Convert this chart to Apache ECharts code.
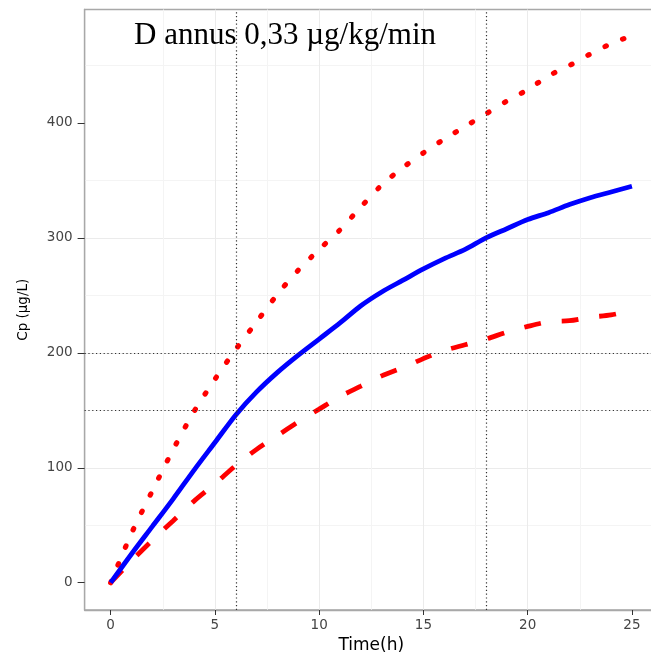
<!DOCTYPE html>
<html>
<head>
<meta charset="utf-8">
<script src="https://cdn.jsdelivr.net/npm/echarts@6/dist/echarts.min.js"></script>
<style>
html,body{margin:0;padding:0;background:#fff;}
#chart{width:651px;height:652px;}
</style>
</head>
<body>
<div id="chart"></div>
<script>
const timeH = [0,1,2,3,4,5,6,7,8,9,10,11,12,13,14,15,16,17,18,19,20,21,22,23,24,25];
const cpMedian = [0,25,49,73,98,122,146,166,183,198,212,226,241,253,263,273,282,290,300,308,316,322,329,335,340,345];
const cpHigh = [0,43,80,116,149,177,203,227,251,272,290,307,327,346,361,374,386,397,408,419,429,441,450,460,469,476];
const cpLow = [0,19,37,54,71,86,102,116,128,140,151,162,171,180,187,195,202,207,212,218,223,227,228,231,233,237];
const xTicks = [0,5,10,15,20,25];
const yTicks = [0,100,200,300,400];
const refX = [6,18];
const refY = [150,200];
const titleText = 'D annus 0,33 µg/kg/min';
const xName = 'Time(h)';
const yName = 'Cp (µg/L)';

const pairs = arr => timeH.map((t,i)=>[t,arr[i]]);
const lw = 4.8;
const chart = echarts.init(document.getElementById('chart'), null, {renderer:'canvas'});
chart.setOption({
  animation:false,
  backgroundColor:'#fff',
  title:{text:titleText,left:129,top:15,textStyle:{fontFamily:'Liberation Serif',fontSize:31,fontWeight:'normal',color:'#000'}},
  grid:{left:84.6,right:-7,top:9.5,bottom:42,containLabel:false,outerBoundsMode:'none',show:true,borderColor:'#a8a8a8',borderWidth:1.3,backgroundColor:'transparent'},
  xAxis:{type:'value',min:-1.25,max:26.25,
    name:xName,nameLocation:'middle',nameGap:25,nameTextStyle:{fontFamily:'DejaVu Sans',fontSize:17,color:'#000'},
    axisLine:{show:true,onZero:false,lineStyle:{color:'#a8a8a8',width:1.3}},
    axisTick:{show:true,customValues:xTicks,length:5,lineStyle:{color:'#333',width:1}},
    axisLabel:{customValues:xTicks,margin:8,fontFamily:'DejaVu Sans',fontSize:13.5,color:'#444'},
    splitLine:{show:true,showMinLine:false,showMaxLine:false,lineStyle:{color:'#ebebeb',width:1}},
    minorTick:{show:false,splitNumber:2},
    minorSplitLine:{show:true,lineStyle:{color:'#f4f4f4',width:1}}
  },
  yAxis:{type:'value',min:-23.75,max:498.75,
    name:yName,nameLocation:'middle',nameGap:54,nameRotate:90,nameTextStyle:{fontFamily:'DejaVu Sans',fontSize:13.5,color:'#000'},
    axisLine:{show:true,onZero:false,lineStyle:{color:'#a8a8a8',width:1.3}},
    axisTick:{show:true,customValues:yTicks,length:7,lineStyle:{color:'#333',width:1}},
    axisLabel:{customValues:yTicks,margin:12,fontFamily:'DejaVu Sans',fontSize:13.5,color:'#444'},
    splitLine:{show:true,showMinLine:false,showMaxLine:false,lineStyle:{color:'#ebebeb',width:1}},
    minorTick:{show:false,splitNumber:2},
    minorSplitLine:{show:true,lineStyle:{color:'#f4f4f4',width:1}}
  },
  series:[
    {type:'line',data:[],z:1,silent:true,
      markLine:{silent:true,symbol:['none','none'],label:{show:false},
        lineStyle:{color:'#333',width:1.2,type:[1.2,2.6]},
        data:[...refX.map(v=>({xAxis:v})),...refY.map(v=>({yAxis:v}))]}},
    {type:'line',data:pairs(cpHigh),z:3,showSymbol:false,smooth:0.3,
      lineStyle:{color:'#ff0000',width:lw+0.4,type:[1.4,17.8],cap:'round'}},
    {type:'line',data:pairs(cpLow),z:3,showSymbol:false,smooth:0.3,
      lineStyle:{color:'#ff0000',width:lw,type:[17,21],cap:'butt'}},
    {type:'line',data:pairs(cpMedian),z:4,showSymbol:false,smooth:0.3,
      lineStyle:{color:'#0000ff',width:lw,type:'solid'}}
  ]
});
</script>
</body>
</html>
